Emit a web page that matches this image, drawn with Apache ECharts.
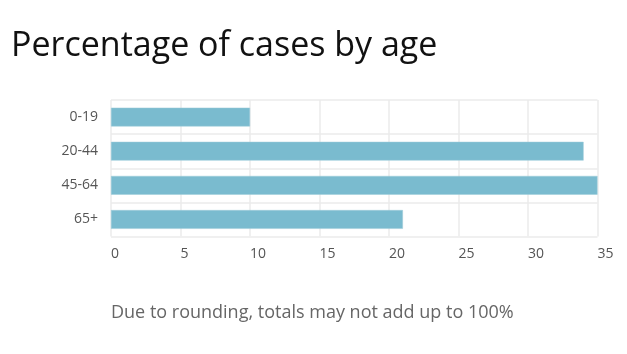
<!DOCTYPE html>
<html>
<head>
<meta charset="utf-8">
<style>
  html, body { margin: 0; padding: 0; background: #ffffff; }
  #chart { width: 627px; height: 354px; }
</style>
<script src="https://cdn.jsdelivr.net/npm/echarts@6/dist/echarts.min.js"></script>
</head>
<body>
<div id="chart"></div>
<script>
// age groups, top to bottom
var ageGroups = ['0-19', '20-44', '45-64', '65+'];
// share of cases, percent
var casePercent = [10, 34, 35, 21];
var xTicks = [0, 5, 10, 15, 20, 25, 30, 35];

var chart = echarts.init(document.getElementById('chart'));
chart.setOption({
    animation: false,
    textStyle: { fontFamily: 'Open Sans' },
    title: [
        {
            text: 'Percentage of cases by age',
            left: 6,
            top: 24,
            textStyle: { fontFamily: 'Open Sans', fontSize: 34, fontWeight: 'normal', color: '#111' }
        },
        {
            text: 'Due to rounding, totals may not add up to 100%',
            left: 106,
            top: 299,
            textStyle: { fontFamily: 'Open Sans', fontSize: 18, fontWeight: 'normal', color: '#666' }
        }
    ],
    grid: { left: 111, right: 29.5, top: 100, bottom: 117.5 },
    xAxis: {
        type: 'value',
        min: xTicks[0],
        max: xTicks[xTicks.length - 1],
        interval: 5,
        axisLine: { show: false },
        axisTick: { show: false },
        axisLabel: { color: '#555', fontSize: 14, margin: 11, align: 'left' },
        splitLine: { lineStyle: { color: '#ebebeb', width: 1.5 } }
    },
    yAxis: {
        type: 'category',
        data: ageGroups,
        inverse: true,
        axisLine: { show: false },
        axisTick: { show: false },
        axisLabel: { color: '#555', fontSize: 14, margin: 13 },
        splitLine: { show: true, lineStyle: { color: '#ebebeb', width: 1.5 } }
    },
    series: [{
        type: 'bar',
        data: casePercent,
        barWidth: '55%',
        itemStyle: { color: '#7abbcf', borderColor: '#9ccbd9', borderWidth: 0.5 }
    }]
});
</script>
</body>
</html>
